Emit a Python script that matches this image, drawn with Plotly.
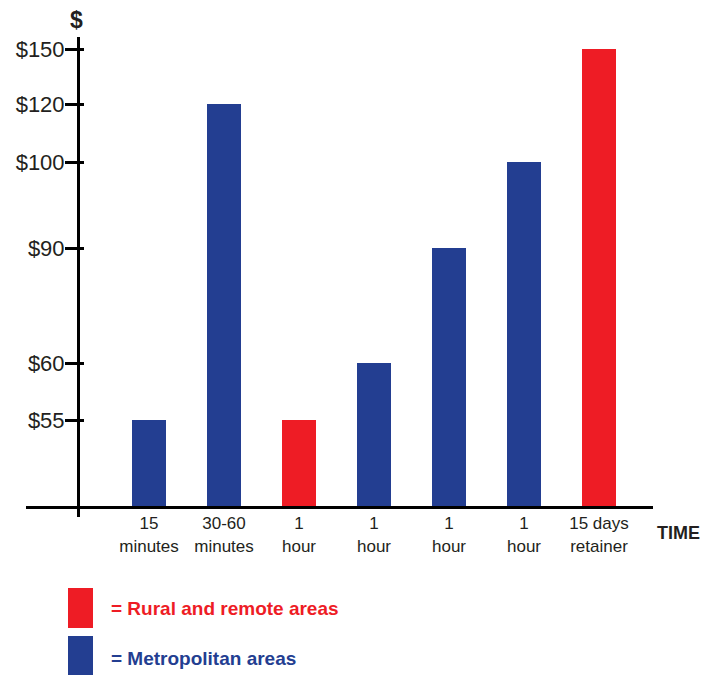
import numpy as np
import plotly.graph_objects as go

# ---- data ----
categories = ["15<br>minutes", "30-60<br>minutes", "1<br>hour", "1<br>hour",
              "1<br>hour", "1<br>hour", "15 days<br>retainer"]
prices = [55, 120, 55, 60, 90, 100, 150]
region = ["Metropolitan", "Metropolitan", "Rural", "Metropolitan",
          "Metropolitan", "Metropolitan", "Rural"]
price_ticks = [55, 60, 90, 100, 120, 150]
tick_labels = ["$55", "$60", "$90", "$100", "$120", "$150"]

# ---- non-proportional price scale: height (px above baseline) of each price level ----
SCALE_LEVELS = [0] + price_ticks
SCALE_HEIGHT = [0, 87, 144, 259, 345, 403, 458]


def to_height(v):
    return np.interp(v, SCALE_LEVELS, SCALE_HEIGHT)


W, H = 717, 675
RED = "#ee1c25"
BLUE = "#233e91"
INK = "#231f20"
FONT = "Liberation Sans, Arial, sans-serif"


def px(x):
    return x / W


def py(y):
    return 1 - y / H


colors = {"Rural": RED, "Metropolitan": BLUE}
xs = np.arange(len(categories))

fig = go.Figure()
fig.add_trace(go.Bar(
    x=xs, y=to_height(prices), base=0, width=0.453,
    marker=dict(color=[colors[r] for r in region], line=dict(width=0)),
    hoverinfo="skip", showlegend=False,
))
# companion trace for the inner tick marks of the price axis
fig.add_trace(go.Scatter(x=[0], y=[0], yaxis="y2", mode="markers",
                         marker=dict(opacity=0), hoverinfo="skip", showlegend=False))

# x: category i centred at 149 + 75*i px; axis line from 26 to 653 px
x0_px, x1_px = 26, 653
xr = [(x0_px - 149) / 75, (x1_px - 149) / 75]
# y: 1 unit = 1 px, baseline at 507 px, axis line from 37 to 517 px
y_top_px, y_bot_px = 37, 517
yr = [507 - y_bot_px, 507 - y_top_px]

tickfont = dict(family=FONT, size=22, color=INK)

fig.update_layout(
    width=W, height=H, margin=dict(l=0, r=0, t=0, b=0),
    paper_bgcolor="white", plot_bgcolor="white",
    bargap=0,
    xaxis=dict(
        domain=[px(x0_px), px(x1_px)], range=xr, anchor="free", position=py(507),
        tickvals=list(xs), ticktext=categories, ticks="",
        tickfont=dict(family=FONT, size=17, color=INK),
        showline=True, linecolor="black", linewidth=3,
        showgrid=False, zeroline=False, fixedrange=True,
    ),
    yaxis=dict(
        domain=[py(y_bot_px), py(y_top_px)], range=yr, anchor="free", position=px(78),
        tickvals=[float(to_height(v)) for v in price_ticks], ticktext=tick_labels,
        ticks="outside", ticklen=12, tickwidth=2.5, tickcolor="black",
        tickfont=tickfont, ticklabelstandoff=-4,
        showline=True, linecolor="black", linewidth=3,
        showgrid=False, zeroline=False, fixedrange=True,
    ),
    yaxis2=dict(
        overlaying="y", range=yr, anchor="free", position=px(78),
        tickvals=[float(to_height(v)) for v in price_ticks],
        ticks="inside", ticklen=5, tickwidth=2.5, tickcolor="black",
        showticklabels=False, showline=False, showgrid=False, zeroline=False,
        fixedrange=True,
    ),
)

# axis titles
fig.add_annotation(text="<b>$</b>", x=px(76), y=py(20), xref="paper", yref="paper",
                   xanchor="center", yanchor="middle", showarrow=False,
                   font=dict(family=FONT, size=23, color=INK))
fig.add_annotation(text="<b>TIME</b>", x=px(678), y=py(533), xref="paper", yref="paper",
                   xanchor="center", yanchor="middle", showarrow=False,
                   font=dict(family=FONT, size=18, color=INK))

# colour key
for (ya, yb), col, label, yc in [((588, 628), RED, "= Rural and remote areas", 608),
                                 ((636, 675), BLUE, "= Metropolitan areas", 658)]:
    fig.add_shape(type="rect", xref="paper", yref="paper",
                  x0=px(68), x1=px(93), y0=py(yb), y1=py(ya),
                  fillcolor=col, line=dict(width=0))
    fig.add_annotation(text=f"<b>{label}</b>", x=px(109), y=py(yc), xref="paper", yref="paper",
                       xanchor="left", yanchor="middle", showarrow=False,
                       font=dict(family=FONT, size=19, color=col))

fig.write_html("out.html", config={"displayModeBar": False})
